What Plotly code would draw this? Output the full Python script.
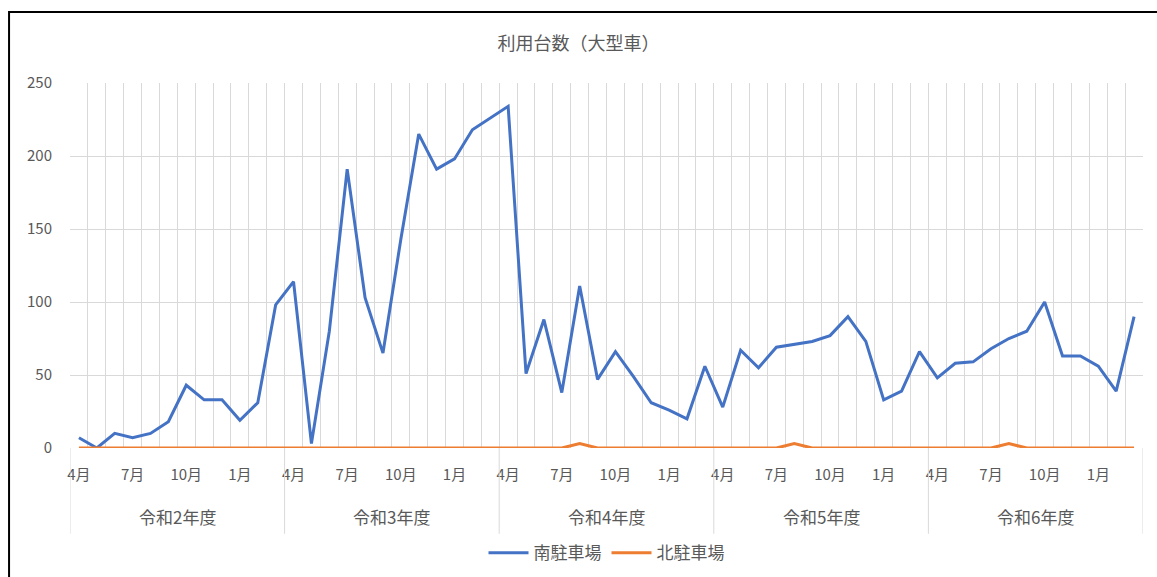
import plotly.graph_objects as go

years = ["令和2年度", "令和3年度", "令和4年度", "令和5年度", "令和6年度"]
months = ["4月", "5月", "6月", "7月", "8月", "9月", "10月", "11月", "12月", "1月", "2月", "3月"]
shown_months = ["4月", "7月", "10月", "1月"]

south = [
    7, 0, 10, 7, 10, 18, 43, 33, 33, 19, 31, 98,
    114, 3, 80, 191, 103, 65, 143, 215, 191, 198, 218, 226,
    234, 51, 88, 38, 111, 47, 66, 49, 31, 26, 20, 56,
    28, 67, 55, 69, 71, 73, 77, 90, 73, 33, 39, 66,
    48, 58, 59, 68, 75, 80, 100, 63, 63, 56, 39, 90,
]
north = [
    0, 0, 0, 0, 0, 0, 0, 0, 0, 0, 0, 0,
    0, 0, 0, 0, 0, 0, 0, 0, 0, 0, 0, 0,
    0, 0, 0, 0, 3, 0, 0, 0, 0, 0, 0, 0,
    0, 0, 0, 0, 3, 0, 0, 0, 0, 0, 0, 0,
    0, 0, 0, 0, 3, 0, 0, 0, 0, 0, 0, 0,
]

n = len(south)
xs = list(range(n))
nm = len(months)

tickvals = [i for i in xs if months[i % nm] in shown_months]
ticktext = [months[i % nm] for i in tickvals]

FONT = "Noto Sans CJK JP"
GRAY = "#595959"
GRID = "#d9d9d9"

fig = go.Figure()
fig.add_trace(go.Scatter(x=xs, y=south, mode="lines", name="南駐車場",
                         line=dict(color="#4472C4", width=3)))
fig.add_trace(go.Scatter(x=xs, y=north, mode="lines", name="北駐車場",
                         line=dict(color="#ED7D31", width=3)))

# year group labels and separators
for k, yname in enumerate(years):
    fig.add_annotation(x=k * nm + (nm - 1) / 2, y=-0.189, xref="x", yref="paper",
                       text=yname, showarrow=False, yanchor="middle",
                       font=dict(family=FONT, size=17, color=GRAY))
for k in range(len(years) + 1):
    fig.add_shape(type="line", xref="x", yref="paper",
                  x0=k * nm - 0.5, x1=k * nm - 0.5, y0=0, y1=-0.235,
                  line=dict(color=GRID, width=1))

# outer border
fig.add_shape(type="rect", xref="paper", yref="paper",
              x0=-0.0568, x1=1.02, y0=-0.38, y1=1.1945,
              line=dict(color="black", width=2), fillcolor="rgba(0,0,0,0)")

fig.update_layout(
    width=1157, height=577,
    margin=dict(l=70, r=14, t=83, b=129, autoexpand=False),
    paper_bgcolor="white", plot_bgcolor="white",
    font=dict(family=FONT, size=15, color=GRAY),
    title=dict(text="利用台数（大型車）", x=0.5, xref="container",
               y=1 - 44 / 577, yref="container", yanchor="middle", xanchor="center",
               font=dict(family=FONT, size=18, color=GRAY)),
    showlegend=True,
    legend=dict(orientation="h", x=0.5, xanchor="center", y=-0.288, yanchor="middle",
                font=dict(family=FONT, size=17, color=GRAY), itemwidth=40),
    xaxis=dict(range=[-0.5, n - 0.5], tickmode="array", tickvals=tickvals, ticktext=ticktext,
               showgrid=False, zeroline=False, showline=False, ticks="",
               ticklabelstandoff=16, automargin=False,
               tickfont=dict(family=FONT, size=15, color=GRAY),
               minor=dict(tickmode="array", tickvals=[i - 0.5 for i in range(n + 1)],
                          showgrid=True, gridcolor=GRID, gridwidth=1, ticks="")),
    yaxis=dict(range=[0, 250], dtick=50, showgrid=True, gridcolor=GRID, zeroline=False,
               showline=False, ticks="", ticklabelstandoff=17, automargin=False,
               tickfont=dict(family=FONT, size=15, color=GRAY)),
)

fig.write_html("out.html", config={"displayModeBar": False},
               post_script="document.body.style.margin='0';")
